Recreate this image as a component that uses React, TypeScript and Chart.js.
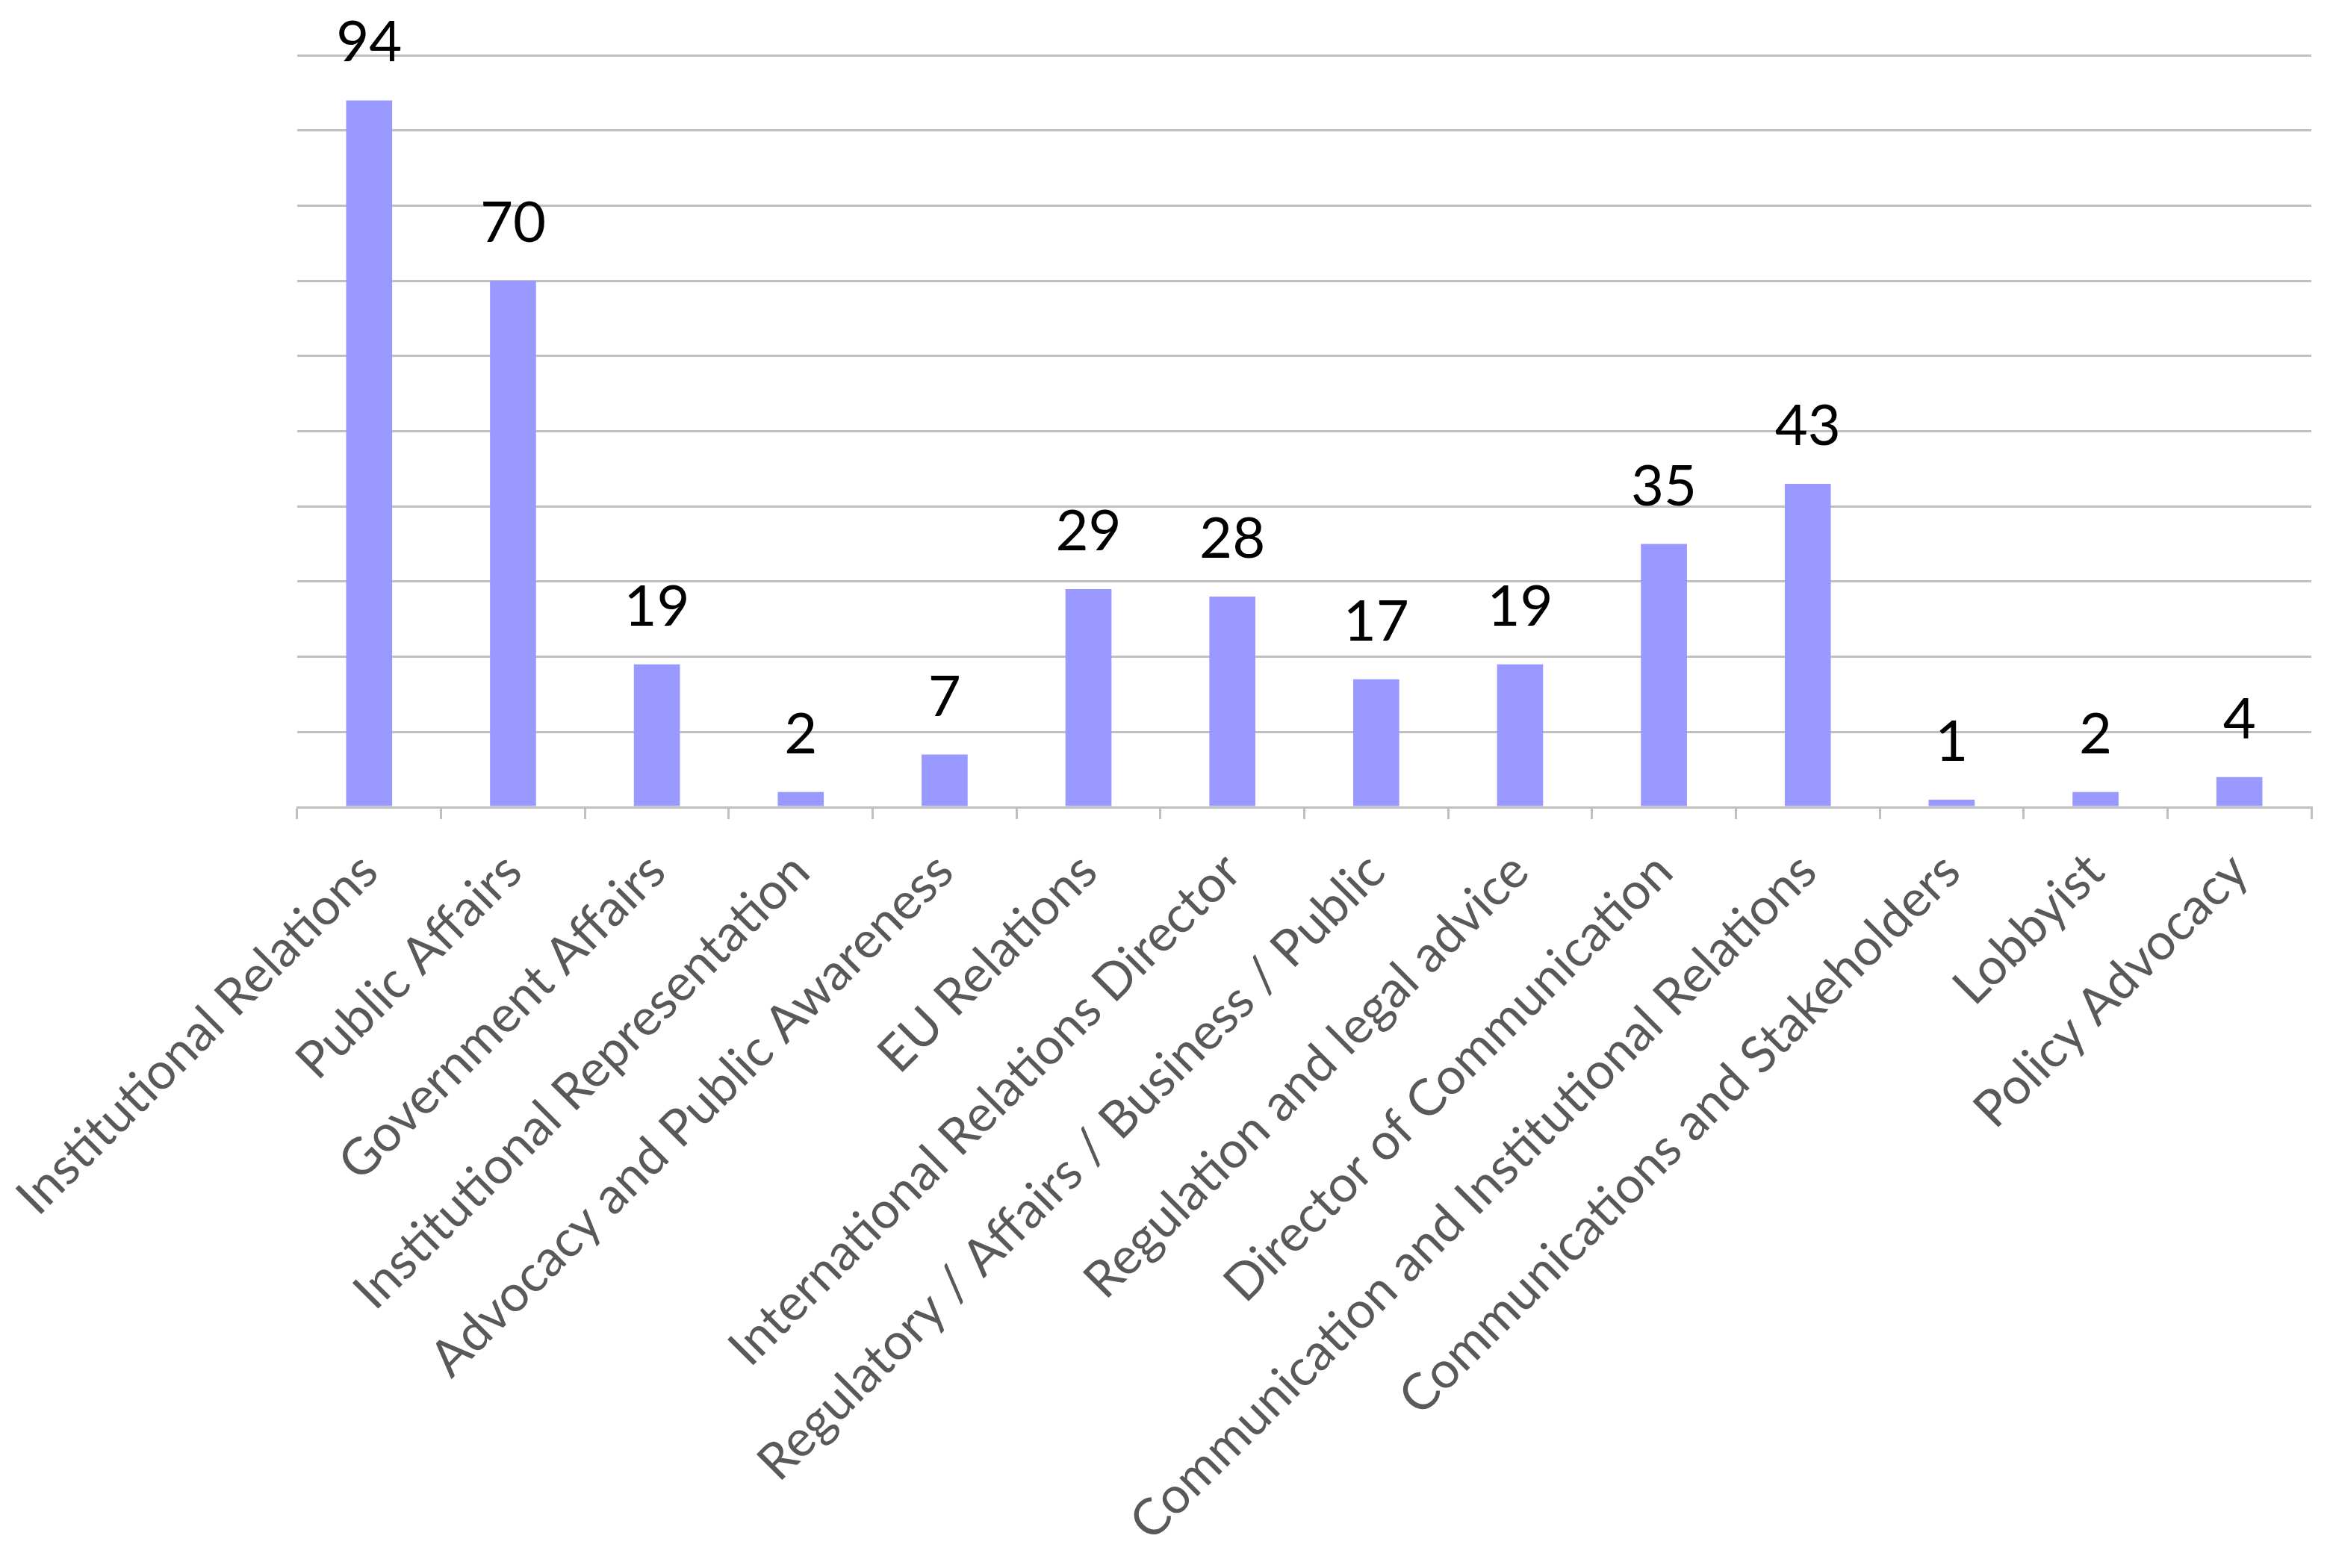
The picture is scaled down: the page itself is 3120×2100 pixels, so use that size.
import React, { useEffect, useRef } from "react";
import { Chart, registerables } from "chart.js";

Chart.register(...registerables);

const categories = [
  "Institutional Relations",
  "Public Affairs",
  "Government Affairs",
  "Institutional Representation",
  "Advocacy and Public Awareness",
  "EU Relations",
  "International Relations Director",
  "Regulatory / Affairs / Business / Public",
  "Regulation and legal advice",
  "Director of Communication",
  "Communication and Institutional Relations",
  "Communications and Stakeholders",
  "Lobbyist",
  "Policy Advocacy",
];

const counts = [94, 70, 19, 2, 7, 29, 28, 17, 19, 35, 43, 1, 2, 4];

const yMin = 0;
const yMax = 100;
const yStep = 10;

const FONT = "Lato, 'Open Sans', sans-serif";

const valueLabels = {
  id: "valueLabels",
  afterDatasetsDraw(chart: any) {
    const ctx = chart.ctx;
    const meta = chart.getDatasetMeta(0);
    ctx.save();
    ctx.fillStyle = "#000000";
    ctx.font = `76px ${FONT}`;
    ctx.textAlign = "center";
    ctx.textBaseline = "alphabetic";
    meta.data.forEach((bar: any, i: number) => {
      const v = chart.data.datasets[0].data[i];
      ctx.fillText(String(v), bar.x, bar.y - 52);
    });
    ctx.restore();
  },
};

export default function App() {
  const ref = useRef<HTMLCanvasElement | null>(null);

  useEffect(() => {
    if (!ref.current) return;
    const chart = new Chart(ref.current, {
      type: "bar",
      data: {
        labels: categories,
        datasets: [
          {
            data: counts,
            backgroundColor: "#9999ff",
            borderWidth: 0,
            categoryPercentage: 1,
            barPercentage: 0.32,
          },
        ],
      },
      options: {
        animation: false,
        responsive: false,
        maintainAspectRatio: false,
        layout: { padding: { top: 74, right: 25, left: 0, bottom: 0 } },
        plugins: {
          legend: { display: false },
          tooltip: { enabled: false },
        },
        scales: {
          x: {
            offset: true,
            border: { display: true, color: "#bfbfbf", width: 3 },
            grid: {
              display: true,
              offset: true,
              drawOnChartArea: false,
              drawTicks: true,
              tickLength: 16,
              color: "#bfbfbf",
              lineWidth: 3,
            },
            ticks: {
              autoSkip: false,
              minRotation: 45,
              maxRotation: 45,
              padding: 30,
              color: "#595959",
              font: { family: FONT, size: 68 },
            },
            afterFit(scale: any) {
              scale.height = 1019;
              scale.paddingLeft = 0;
              scale.paddingRight = 0;
            },
          },
          y: {
            min: yMin,
            max: yMax,
            border: { display: false },
            grid: {
              color: "#bfbfbf",
              lineWidth: 3,
              drawTicks: false,
            },
            ticks: { display: false, stepSize: yStep },
            afterFit(scale: any) {
              scale.width = 398;
            },
          },
        },
      },
      plugins: [valueLabels],
    });
    return () => chart.destroy();
  }, []);

  return (
    <div style={{ position: "fixed", left: 0, top: 0, width: 3120, height: 2100, background: "#ffffff" }}>
      <canvas ref={ref} width={3120} height={2100} style={{ width: 3120, height: 2100 }} />
    </div>
  );
}
